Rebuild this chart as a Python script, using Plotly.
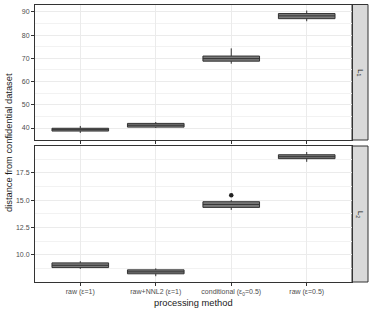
import plotly.graph_objects as go

categories = ["raw (ε=1)", "raw+NNL2 (ε=1)", "conditional (ε0=0.5)", "raw (ε=0.5)"]
tick_labels = ["raw (ε=1)", "raw+NNL2 (ε=1)", "conditional (ε<sub>0</sub>=0.5)", "raw (ε=0.5)"]

# L1 facet
l1_lower = [37.9, 40.0, 67.7, 86.0]
l1_q1 = [38.7, 40.4, 68.8, 87.1]
l1_median = [39.3, 41.2, 69.9, 88.3]
l1_q3 = [39.9, 42.0, 71.0, 89.3]
l1_upper = [40.9, 42.6, 74.3, 90.6]

# L2 facet
l2_lower = [8.7, 8.03, 14.1, 18.5]
l2_q1 = [8.82, 8.25, 14.33, 18.79]
l2_median = [9.03, 8.43, 14.6, 18.97]
l2_q3 = [9.25, 8.61, 14.85, 19.15]
l2_upper = [9.4, 8.75, 15.0, 19.4]

l2_outlier_cat = ["conditional (ε0=0.5)"]
l2_outlier_val = [15.45]

W, H = 374, 312
def px(x): return x / W
def py(y): return 1 - y / H

FONT = "Liberation Sans, Arial, sans-serif"
BOXFILL = "#7a7a7a"
BOXLINE = "#333333"

fig = go.Figure()
fig.add_trace(go.Box(x=categories, q1=l1_q1, median=l1_median, q3=l1_q3,
                     lowerfence=l1_lower, upperfence=l1_upper,
                     xaxis="x2", yaxis="y2", width=0.75, whiskerwidth=0,
                     fillcolor=BOXFILL, line=dict(color=BOXLINE, width=1),
                     boxpoints=False, showlegend=False))
fig.add_trace(go.Box(x=categories, q1=l2_q1, median=l2_median, q3=l2_q3,
                     lowerfence=l2_lower, upperfence=l2_upper,
                     xaxis="x", yaxis="y", width=0.75, whiskerwidth=0,
                     fillcolor=BOXFILL, line=dict(color=BOXLINE, width=1),
                     boxpoints=False, showlegend=False))
fig.add_trace(go.Scatter(x=l2_outlier_cat, y=l2_outlier_val, mode="markers",
                         marker=dict(color="#222222", size=4.5),
                         xaxis="x", yaxis="y", showlegend=False))

ax_common = dict(showline=True, linecolor="#333333", linewidth=1, mirror=True,
                 gridcolor="#ebebeb", gridwidth=1, zeroline=False, automargin=False,
                 ticks="outside", ticklen=3, tickcolor="#333333", tickwidth=1,
                 tickfont=dict(family=FONT, size=7, color="#4d4d4d"))

xdom = [px(35), px(352)]
fig.update_layout(
    width=W, height=H, margin=dict(l=0, r=0, t=0, b=0, autoexpand=False),
    paper_bgcolor="white", plot_bgcolor="white",
    font=dict(family=FONT),
    xaxis=dict(**ax_common, domain=xdom, anchor="y", type="category",
               categoryorder="array", categoryarray=categories,
               tickvals=categories, ticktext=tick_labels, range=[-0.6, 3.6]),
    xaxis2=dict(**ax_common, domain=xdom, anchor="y2", type="category",
                categoryorder="array", categoryarray=categories,
                range=[-0.6, 3.6], showticklabels=False),
    yaxis=dict(**ax_common, domain=[py(282), py(146)], anchor="x",
               range=[7.5, 19.95], tickvals=[10, 12.5, 15, 17.5],
               ticktext=["10.0", "12.5", "15.0", "17.5"],
               minor=dict(tickvals=[8.75, 11.25, 13.75, 16.25, 18.75],
                          showgrid=True, gridcolor="#f2f2f2", gridwidth=0.6, ticks="")),
    yaxis2=dict(**ax_common, domain=[py(140), py(4.5)], anchor="x2",
                range=[34.85, 93.2], tickvals=[40, 50, 60, 70, 80, 90],
                minor=dict(tickvals=[35, 45, 55, 65, 75, 85],
                           showgrid=True, gridcolor="#f2f2f2", gridwidth=0.6, ticks="")),
)

# strips
for (y0, y1, lab) in [(4.5, 140, "L<sub>1</sub>"), (146, 282, "L<sub>2</sub>")]:
    fig.add_shape(type="rect", xref="paper", yref="paper",
                  x0=px(352), x1=px(368), y0=py(y1), y1=py(y0),
                  fillcolor="#d9d9d9", line=dict(color="#333333", width=1), layer="below")
    fig.add_annotation(xref="paper", yref="paper", x=px(360), y=py((y0 + y1) / 2),
                       text=lab, textangle=90, showarrow=False,
                       xanchor="center", yanchor="middle",
                       font=dict(family=FONT, size=7.5, color="#1a1a1a"))

fig.add_annotation(xref="paper", yref="paper", x=px(9), y=py(143),
                   text="distance from confidential dataset", textangle=-90,
                   xanchor="center", yanchor="middle",
                   showarrow=False, font=dict(family=FONT, size=9.3, color="#1a1a1a"))
fig.add_annotation(xref="paper", yref="paper", x=px(193.5), y=py(302.5),
                   text="processing method", xanchor="center", yanchor="middle",
                   showarrow=False, font=dict(family=FONT, size=9.3, color="#1a1a1a"))

fig.write_html("out.html", config={"displayModeBar": False},
               post_script="document.body.style.margin='0';document.body.style.overflow='hidden';")
